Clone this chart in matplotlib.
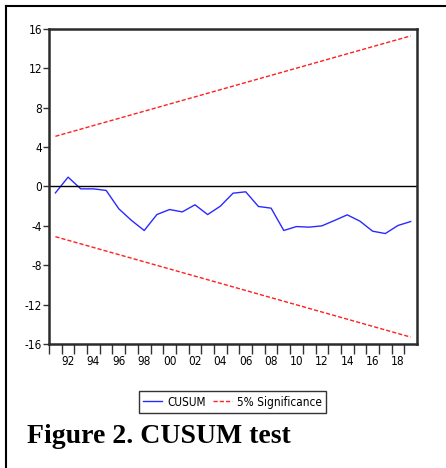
import matplotlib.pyplot as plt
from matplotlib.lines import Line2D

#   data
years = list(range(1991, 2020))
cusum = [-0.65, 0.95, -0.24, -0.24, -0.4, -2.27, -3.45, -4.47, -2.85, -2.34,
         -2.58, -1.86, -2.85, -2.0, -0.68, -0.54, -2.03, -2.2, -4.47, -4.07,
         -4.13, -4.0, -3.45, -2.88, -3.52, -4.54, -4.78, -3.96, -3.56]
bound_years = [1991, 2019]
upper = [5.1, 15.3]
lower = [-5.1, -15.3]
year_labels = ['92', '94', '96', '98', '00', '02', '04', '06', '08', '10',
               '12', '14', '16', '18']
yticks = [-16, -12, -8, -4, 0, 4, 8, 12, 16]

narrow = dict(family='DejaVu Sans', stretch='condensed', size=8.5)

fig = plt.figure(figsize=(4.46, 4.68), dpi=100)
ax = fig.add_axes([0.110, 0.265, 0.825, 0.673])

ax.plot(years, cusum, color='#2a2aff', lw=1.0, label='CUSUM')
ax.plot(bound_years, upper, color='#ff2020', lw=1.0, ls=(0, (3, 1.5)),
        label='5% Significance')
ax.plot(bound_years, lower, color='#ff2020', lw=1.0, ls=(0, (3, 1.5)))
ax.axhline(0, color='black', lw=1.0)

ax.set_xlim(1990.5, 2019.5)
ax.set_ylim(-16, 16)

#   year boundaries get tick marks, even years get labels
ax.set_xticks([y + 0.5 for y in range(1990, 2019)])
ax.set_xticklabels([])
ax.set_xticks(list(range(1992, 2019, 2)), minor=True)
ax.set_xticklabels(year_labels, minor=True, **narrow)
ax.tick_params(axis='x', which='major', length=7, width=1, color='#333333')
ax.tick_params(axis='x', which='minor', length=0, pad=8)

ax.set_yticks(yticks)
ax.set_yticklabels([str(v) for v in yticks], **narrow)
ax.tick_params(axis='y', length=4, width=1, pad=1, color='#333333')

for side in ['top', 'bottom', 'left', 'right']:
    ax.spines[side].set_linewidth(1.8)
    ax.spines[side].set_color('#2b2b2b')

leg = fig.legend(loc='center', bbox_to_anchor=(0.522, 0.141), ncol=2,
                 prop=narrow, fancybox=False,
                 edgecolor='#333333', handlelength=1.6, handletextpad=0.45,
                 columnspacing=0.6, borderpad=0.35, borderaxespad=0,
                 framealpha=1)
leg.get_frame().set_linewidth(1.0)

fig.text(0.06, 0.054, 'Figure 2. CUSUM test', family='Liberation Serif',
         fontweight='bold', fontsize=20)

#   outer frame (top and left only visible)
fig.add_artist(Line2D([0.0145, 1.0], [0.988, 0.988], color='black', lw=1.5,
                      transform=fig.transFigure))
fig.add_artist(Line2D([0.0145, 0.0145], [0.0, 0.988], color='black', lw=1.5,
                      transform=fig.transFigure))

fig.savefig('out.png', dpi=100)
